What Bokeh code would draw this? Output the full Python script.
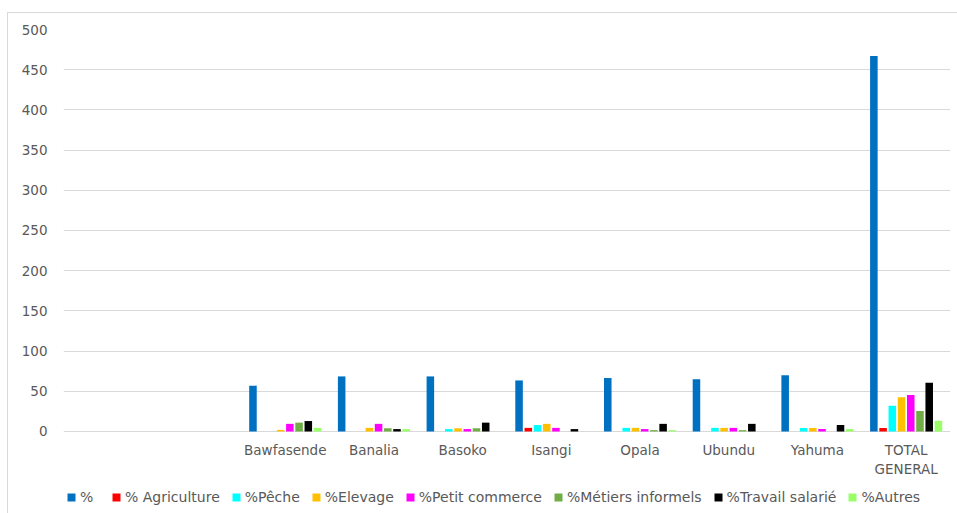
from bokeh.plotting import figure
from bokeh.models import Range1d, FixedTicker, Legend, LegendItem, ColumnDataSource
from bokeh.core.properties import value
from bokeh.embed import file_html
from bokeh.resources import INLINE

categories = ["", "", "Bawfasende", "Banalia", "Basoko", "Isangi", "Opala", "Ubundu", "Yahuma", "TOTAL\nGENERAL"]

series_names = ["%", "% Agriculture", "%Pêche", "%Elevage", "%Petit commerce",
                "%Métiers informels", "%Travail salarié", "%Autres"]
series_colors = ["#0070C0", "#FF0000", "#00FFFF", "#FFC000", "#FF00FF",
                 "#70AD47", "#000000", "#99FF66"]

pct            = [0, 0, 57, 68.5, 68.5, 63.5, 66.5, 65, 70, 467]
agriculture    = [0, 0, 0, 0, 0, 4.5, 0, 0, 0, 4.5]
peche          = [0, 0, 0, 0, 3, 8, 4.5, 4.5, 4.5, 32]
elevage        = [0, 0, 2, 4.5, 4, 9.5, 4.5, 4.5, 4.5, 42.5]
petit_commerce = [0, 0, 9.5, 9.5, 3, 4.5, 3, 4.5, 3, 45.5]
metiers        = [0, 0, 11, 4, 4, 0, 1.7, 1.7, 0, 25.5]
travail        = [0, 0, 13, 3, 11, 3, 9.5, 9.5, 8, 60.5]
autres         = [0, 0, 4.5, 3, 0, 0, 1.7, 0, 3, 13.5]

series_values = [pct, agriculture, peche, elevage, petit_commerce, metiers, travail, autres]

y_ticks = list(range(0, 501, 50))

FONT = "DejaVu Sans"
TXT = "#595959"
FS = "13.5px"

# frame extends below the value axis so the category labels and legend sit inside it
p = figure(width=949, height=500, output_backend="svg", toolbar_location=None,
           x_range=Range1d(0, len(categories)), y_range=Range1d(-102, 500),
           min_border_left=55, min_border_right=7, min_border_top=16, min_border_bottom=0,
           frame_width=887, frame_height=484)
p.styles = {"margin-left": "7px", "margin-top": "12px",
            "border-left": "1px solid #D9D9D9", "border-top": "1px solid #D9D9D9"}
p.outline_line_color = None
p.background_fill_color = "white"
p.border_fill_color = "white"

step = 0.104
bw = 0.085
items = []
for j, (name, col, vals) in enumerate(zip(series_names, series_colors, series_values)):
    xs = [i + 0.5 + (j - 3.5) * step for i in range(len(categories))]
    src = ColumnDataSource(dict(x=xs, top=vals))
    r = p.vbar(x="x", top="top", bottom=0, width=bw, source=src,
               fill_color=col, line_color=None)
    items.append(LegendItem(label=name, renderers=[r]))

# category labels
lab_src = ColumnDataSource(dict(x=[i + 0.5 for i in range(len(categories))],
                                y=[-12.5] * len(categories), text=categories))
p.text(x="x", y="y", text="text", source=lab_src, text_align="center",
       text_baseline="top", text_font=value(FONT), text_font_size=value(FS),
       text_color=TXT, text_line_height=1.2)

p.xaxis.visible = False
p.yaxis.ticker = FixedTicker(ticks=y_ticks)
ax = p.yaxis[0]
ax.axis_line_color = None
ax.major_tick_line_color = None
ax.minor_tick_line_color = None
ax.major_label_text_font = FONT
ax.major_label_text_font_size = FS
ax.major_label_text_color = TXT
ax.major_label_standoff = 10

p.xgrid.grid_line_color = None
p.ygrid.grid_line_color = "#D9D9D9"
p.ygrid.grid_line_width = 1

legend = Legend(items=items, orientation="horizontal", location=(3, 8),
                glyph_width=10, glyph_height=10, label_standoff=4, spacing=11,
                label_text_font=FONT, label_text_font_size="14px",
                label_text_color=TXT, border_line_color=None,
                background_fill_alpha=0, padding=0, margin=0)
p.add_layout(legend, "center")

open("out.html", "w").write(file_html(p, INLINE))
